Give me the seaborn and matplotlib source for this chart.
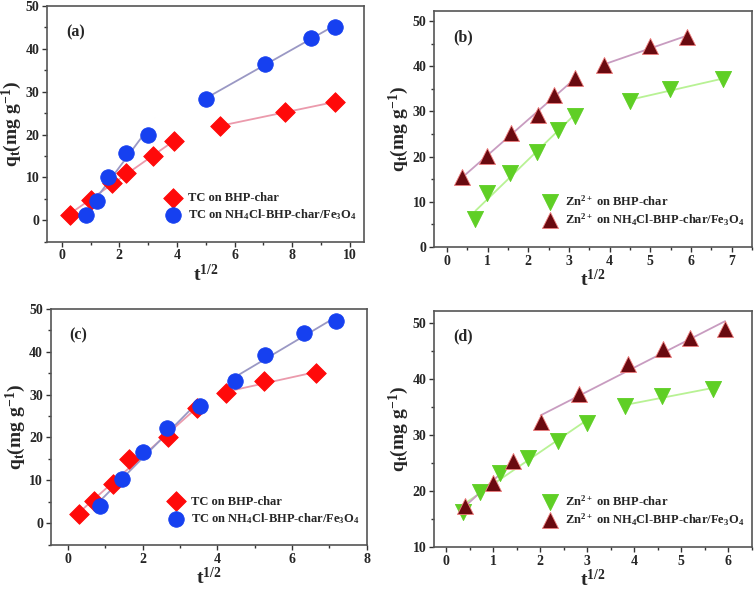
import numpy as np
import matplotlib
matplotlib.use("Agg")
import matplotlib.pyplot as plt
import seaborn as sns
from matplotlib.ticker import MultipleLocator

# (a) TC adsorption
a_bhp_x = [0.29, 1.0, 1.73, 2.24, 3.16, 3.90, 5.48, 7.75, 9.48]
a_bhp_y = [1.3, 4.8, 8.7, 11.0, 14.9, 18.4, 22.0, 25.2, 27.6]
a_fe_x = [0.84, 1.23, 1.59, 2.24, 2.98, 5.02, 7.05, 8.67, 9.48]
a_fe_y = [1.2, 4.5, 10.2, 15.8, 20.0, 28.4, 36.4, 42.6, 45.2]

# (b) Zn2+ adsorption
b_bhp_x = [0.70, 0.98, 1.56, 2.21, 2.73, 3.16, 4.49, 5.49, 6.80]
b_bhp_y = [6.1, 12.0, 16.3, 21.0, 25.9, 28.9, 32.3, 35.0, 37.1]
b_fe_x = [0.38, 0.99, 1.57, 2.23, 2.63, 3.16, 3.87, 5.0, 5.91]
b_fe_y = [15.4, 20.1, 25.3, 29.2, 33.6, 37.3, 40.2, 44.4, 46.5]

# (c) TC adsorption
c_bhp_x = [0.29, 0.70, 1.21, 1.63, 2.67, 3.45, 4.24, 5.25, 6.65]
c_bhp_y = [2.1, 5.2, 9.2, 15.0, 20.1, 26.8, 30.4, 33.1, 35.1]
c_fe_x = [0.85, 1.43, 2.01, 2.64, 3.53, 4.47, 5.27, 6.32, 7.17]
c_fe_y = [4.0, 10.3, 16.5, 22.2, 27.3, 33.2, 39.2, 44.4, 47.3]

# (d) Zn2+ adsorption
d_bhp_x = [0.36, 0.71, 1.14, 1.74, 2.38, 3.0, 3.80, 4.58, 5.68]
d_bhp_y = [16.3, 19.8, 23.3, 25.9, 29.0, 32.2, 35.2, 36.9, 38.3]
d_fe_x = [0.39, 0.99, 1.42, 2.01, 2.83, 3.87, 4.60, 5.18, 5.93]
d_fe_y = [17.3, 21.5, 25.3, 32.4, 37.3, 42.6, 45.4, 47.4, 49.0]

# where the second linear stage starts (index into each series)
split = {"a": (6, 5), "b": (6, 6), "c": (6, 5), "d": (6, 3)}

tc_labels = ["TC on BHP-char", "TC on NH$_4$Cl-BHP-char/Fe$_3$O$_4$"]
zn_labels = ["Zn$^{2+}$ on BHP-char", "Zn$^{2+}$ on NH$_4$Cl-BHP-char/Fe$_3$O$_4$"]

sns.set_style("ticks")
plt.rcParams["font.family"] = ["Liberation Serif", "DejaVu Serif"]
plt.rcParams["font.weight"] = "bold"
plt.rcParams["mathtext.fontset"] = "custom"
plt.rcParams["mathtext.rm"] = "Liberation Serif:bold"
plt.rcParams["mathtext.it"] = "Liberation Serif:bold"
plt.rcParams["mathtext.bf"] = "Liberation Serif:bold"

fig = plt.figure(figsize=(7.56, 5.93), dpi=100)
axes = {
    "a": fig.add_axes([0.0626, 0.5924, 0.419, 0.3975]),
    "b": fig.add_axes([0.574, 0.5835, 0.4206, 0.398]),
    "c": fig.add_axes([0.067, 0.081, 0.418, 0.398]),
    "d": fig.add_axes([0.574, 0.0776, 0.4206, 0.3985]),
}

styles = {
    "tc1": dict(marker="D", color="#ff0a0a", s=100, line="#eb9aac", edge="#ff0a0a"),
    "tc2": dict(marker="o", color="#1640f0", s=125, line="#9a98c4", edge="#1640f0"),
    "zn1": dict(marker="v", color="#5fcf25", s=135, line="#b8f294", edge="#5fcf25"),
    "zn2": dict(marker="^", color="#6a0a10", s=135, line="#c89cc0", edge="#f08080"),
}

panels = [
    ("a", (a_bhp_x, a_bhp_y), (a_fe_x, a_fe_y), "tc1", "tc2", tc_labels),
    ("b", (b_bhp_x, b_bhp_y), (b_fe_x, b_fe_y), "zn1", "zn2", zn_labels),
    ("c", (c_bhp_x, c_bhp_y), (c_fe_x, c_fe_y), "tc1", "tc2", tc_labels),
    ("d", (d_bhp_x, d_bhp_y), (d_fe_x, d_fe_y), "zn1", "zn2", zn_labels),
]

for key, s1, s2, st1, st2, labels in panels:
    ax = axes[key]
    for (xs, ys), st, lab, cut in zip((s1, s2), (styles[st1], styles[st2]),
                                      labels, split[key]):
        xs = np.array(xs)
        ys = np.array(ys)
        for seg in (slice(0, cut), slice(cut, None)):
            sns.regplot(x=xs[seg], y=ys[seg], ax=ax, scatter=False, ci=None,
                        truncate=True, line_kws=dict(color=st["line"], lw=1.3))
        sns.scatterplot(x=xs, y=ys, ax=ax, marker=st["marker"], s=st["s"],
                        color=st["color"], edgecolor=st["edge"], linewidth=0.6,
                        label=lab, zorder=3)
    ax.legend(loc="lower right", bbox_to_anchor=(1.0, 0.05), frameon=False,
              fontsize=9, handletextpad=0.2, labelspacing=0.25,
              borderaxespad=0.2)
    ax.text(0.06, 0.89, "(%s)" % key, transform=ax.transAxes,
            fontsize=11.5, fontweight="bold", va="center")
    ax.set_xlabel("t$^{1/2}$", fontsize=14, fontweight="bold", labelpad=1)
    ax.set_ylabel("q$_t$(mg g$^{-1}$)", fontsize=14, fontweight="bold", labelpad=1)
    for sp in ax.spines.values():
        sp.set_color("#555555")
        sp.set_linewidth(1.2)
    ax.tick_params(which="both", direction="out", top=False, right=False,
                   labelsize=10, color="#333333", width=1, pad=2)
    ax.tick_params(which="major", length=3.5)
    ax.tick_params(which="minor", length=2)

ax = axes["a"]
ax.set_xlim(-0.5, 10.5)
ax.set_ylim(-5, 50)
ax.xaxis.set_major_locator(MultipleLocator(2))
ax.xaxis.set_minor_locator(MultipleLocator(1))
ax.yaxis.set_major_locator(MultipleLocator(10))
ax.yaxis.set_minor_locator(MultipleLocator(5))

ax = axes["b"]
ax.set_xlim(-0.32, 7.5)
ax.set_ylim(0, 52.2)
ax.xaxis.set_major_locator(MultipleLocator(1))
ax.xaxis.set_minor_locator(MultipleLocator(0.5))
ax.yaxis.set_major_locator(MultipleLocator(10))
ax.yaxis.set_minor_locator(MultipleLocator(5))

ax = axes["c"]
ax.set_xlim(-0.47, 8)
ax.set_ylim(-5.1, 50)
ax.xaxis.set_major_locator(MultipleLocator(2))
ax.xaxis.set_minor_locator(MultipleLocator(1))
ax.yaxis.set_major_locator(MultipleLocator(10))
ax.yaxis.set_minor_locator(MultipleLocator(5))

ax = axes["d"]
ax.set_xlim(-0.26, 6.5)
ax.set_ylim(10, 52.2)
ax.xaxis.set_major_locator(MultipleLocator(1))
ax.xaxis.set_minor_locator(MultipleLocator(0.5))
ax.yaxis.set_major_locator(MultipleLocator(10))
ax.yaxis.set_minor_locator(MultipleLocator(5))

for ax in axes.values():
    for t in ax.get_xticklabels() + ax.get_yticklabels():
        t.set_fontweight("bold")

fig.savefig("out.png", dpi=100)
